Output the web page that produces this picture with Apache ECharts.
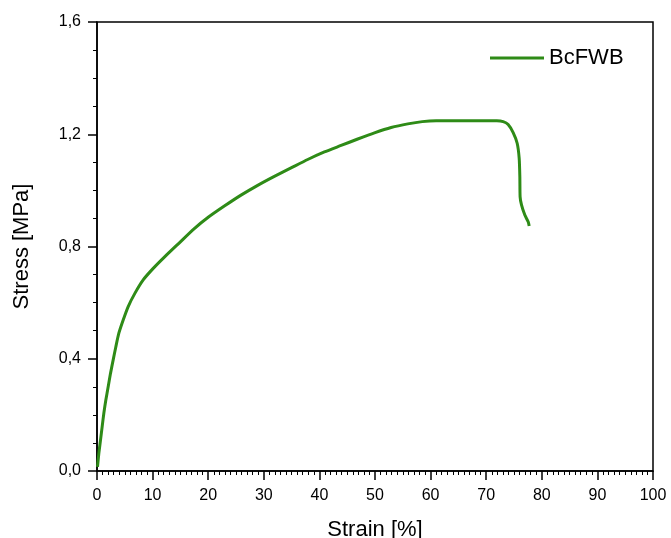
<!DOCTYPE html>
<html>
<head>
<meta charset="utf-8">
<script src="https://cdn.jsdelivr.net/npm/echarts@6/dist/echarts.min.js"></script>
<style>
html,body{margin:0;padding:0;background:#fff;}
#chart{width:671px;height:538px;}
</style>
</head>
<body>
<div id="chart"></div>
<script>
var seriesName = 'BcFWB';
var strain = [0.09, 0.33, 0.63, 0.93, 1.23, 1.59, 2.01, 2.43, 2.91, 3.39, 3.93, 4.71, 5.61, 6.81, 8.31, 10.11, 12.21, 14.91, 17.4, 20.0, 22.9, 25.9, 28.9, 31.9, 34.9, 37.9, 40.9, 43.9, 46.9, 49.9, 52.9, 55.9, 58.5, 61.0, 65.9, 71.9, 73.05, 73.95, 74.85, 75.57, 75.93, 76.05, 76.1, 76.35, 76.95, 77.55, 77.73];
var stress = [0.015, 0.063, 0.110, 0.158, 0.206, 0.253, 0.300, 0.348, 0.396, 0.443, 0.491, 0.538, 0.586, 0.633, 0.681, 0.722, 0.764, 0.815, 0.862, 0.904, 0.944, 0.983, 1.018, 1.050, 1.080, 1.110, 1.137, 1.160, 1.183, 1.205, 1.224, 1.237, 1.245, 1.248, 1.248, 1.248, 1.245, 1.235, 1.206, 1.168, 1.115, 1.049, 0.977, 0.948, 0.912, 0.888, 0.873];
var yTickLabels = ['0,0', '0,4', '0,8', '1,2', '1,6'];
var xTickLabels = ['0', '10', '20', '30', '40', '50', '60', '70', '80', '90', '100'];
var xName = 'Strain [%]';
var yName = 'Stress [MPa]';

var data = strain.map(function (s, i) { return [s, stress[i]]; });
var FONT = 'Liberation Sans, Arial, sans-serif';
var chart = echarts.init(document.getElementById('chart'));
chart.setOption({
  animation: false,
  backgroundColor: '#fff',
  grid: { left: 97, right: 18, top: 22, bottom: 67, containLabel: false, outerBoundsMode: 'none',
    show: true, borderColor: '#000', borderWidth: 1.5, backgroundColor: 'transparent' },
  legend: {
    data: [seriesName], left: 490, top: 47, padding: 0,
    icon: 'rect', itemWidth: 54, itemHeight: 3, itemGap: 6,
    textStyle: { fontFamily: FONT, fontSize: 22, color: '#000' }
  },
  xAxis: {
    type: 'value', min: 0, max: 100, interval: 10,
    name: xName, nameLocation: 'middle', nameGap: 48,
    nameTextStyle: { fontFamily: FONT, fontSize: 22, color: '#000' },
    axisLine: { show: true, onZero: false, lineStyle: { color: '#000', width: 1.5 } },
    axisTick: { show: true, length: 9, lineStyle: { color: '#000', width: 1.5 } },
    minorTick: { show: true, splitNumber: 10, length: 4, lineStyle: { color: '#000', width: 1 } },
    axisLabel: { margin: 17, fontFamily: FONT, fontSize: 16, color: '#000',
      formatter: function (v) { return xTickLabels[Math.round(v / 10)]; } },
    splitLine: { show: false }
  },
  yAxis: {
    type: 'value', min: 0, max: 1.6, interval: 0.4,
    name: yName, nameLocation: 'middle', nameGap: 64,
    nameTextStyle: { fontFamily: FONT, fontSize: 22, color: '#000' },
    axisLine: { show: true, onZero: false, lineStyle: { color: '#000', width: 1.5 } },
    axisTick: { show: true, length: 9, lineStyle: { color: '#000', width: 1.5 } },
    minorTick: { show: true, splitNumber: 4, length: 4, lineStyle: { color: '#000', width: 1 } },
    axisLabel: { margin: 16, fontFamily: FONT, fontSize: 16, color: '#000',
      formatter: function (v) { return yTickLabels[Math.round(v / 0.4)]; } },
    splitLine: { show: false }
  },
  series: [{
    name: seriesName, type: 'line', data: data, showSymbol: false, symbol: 'none',
    smooth: 0.2,
    itemStyle: { color: '#2E8B17' },
    lineStyle: { color: '#2E8B17', width: 3 }
  }]
});
</script>
</body>
</html>
